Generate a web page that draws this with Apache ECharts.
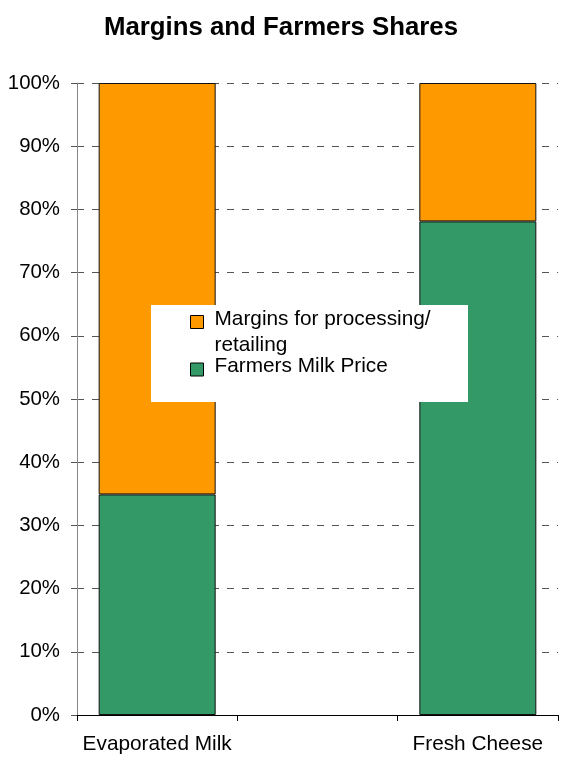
<!DOCTYPE html>
<html>
<head>
<meta charset="utf-8">
<script src="https://cdn.jsdelivr.net/npm/echarts@6/dist/echarts.min.js"></script>
<style>
  html, body { margin: 0; padding: 0; background: #fff; }
  #chart { width: 562px; height: 760px; }
</style>
</head>
<body>
<div id="chart"></div>
<script>
const chartTitle = 'Margins and Farmers Shares';
const categories = ['Evaporated Milk', '', 'Fresh Cheese'];
const farmersShare = [34.9, null, 78.1];
const marginsShare = [65.1, null, 21.9];
const seriesNames = ['Farmers Milk Price', 'Margins for processing/ retailing'];
const yTicks = [0, 10, 20, 30, 40, 50, 60, 70, 80, 90, 100];

const FONT = '"Liberation Sans", Arial, sans-serif';
const chart = echarts.init(document.getElementById('chart'), null, { renderer: 'canvas' });

const option = {
  animation: false,
  backgroundColor: '#ffffff',
  textStyle: { fontFamily: FONT },
  title: {
    text: chartTitle,
    left: 'center',
    top: 10,
    textStyle: { fontFamily: FONT, fontSize: 25.8, fontWeight: 'bold', color: '#000' }
  },
  grid: { left: 77, right: 4, top: 83, bottom: 45, outerBoundsMode: 'none', containLabel: false },
  graphic: [{
    type: 'rect',
    left: 151, top: 305, z: 10,
    shape: { width: 317, height: 97 },
    style: { fill: '#ffffff' }
  }],
  legend: {
    orient: 'vertical',
    left: 190,
    top: 294,
    padding: 0,
    itemGap: 0,
    z: 20,
    itemWidth: 13,
    itemHeight: 13,
    icon: 'rect',
    itemStyle: { borderColor: '#000', borderWidth: 1 },
    textStyle: {
      fontFamily: FONT, fontSize: 20.8, color: '#000',
      rich: {
        a: { fontFamily: FONT, fontSize: 20.8, color: '#000', lineHeight: 26, padding: [0, 0, 0, 6] },
        f: { fontFamily: FONT, fontSize: 20.8, color: '#000', lineHeight: 20, padding: [0, 0, 0, 6] },
        s: { fontSize: 4, lineHeight: 21 },
        t: { fontSize: 4, lineHeight: 6 }
      }
    },
    data: [seriesNames[1], seriesNames[0]],
    formatter: function (name) {
      if (name === seriesNames[1]) {
        return '{s| }\n{a|Margins for processing/}\n{a|retailing}';
      }
      return '{f|' + name + '}\n{t| }';
    }
  },
  xAxis: {
    type: 'category',
    data: categories,
    boundaryGap: true,
    axisLine: { show: true, lineStyle: { color: '#000', width: 1 } },
    axisTick: { show: true, length: 6, interval: 0, lineStyle: { color: '#000' } },
    axisLabel: { margin: 19, interval: 0, fontFamily: FONT, fontSize: 20.8, color: '#000' },
    splitLine: { show: false }
  },
  yAxis: {
    type: 'value',
    min: 0, max: 100, interval: 10,
    axisLine: { show: true, lineStyle: { color: '#888', width: 1 } },
    axisTick: { show: true, length: 6, lineStyle: { color: '#555' } },
    axisLabel: {
      margin: 17, fontFamily: FONT, fontSize: 20.4, color: '#000',
      formatter: function (v) { return v + '%'; }
    },
    splitLine: { show: true, lineStyle: { color: '#555', width: 1, type: [7, 8] } }
  },
  series: [
    {
      name: seriesNames[0],
      type: 'bar',
      stack: 'total',
      data: farmersShare,
      barWidth: 117,
      itemStyle: { color: '#339966', borderColor: '#111', borderWidth: 1 }
    },
    {
      name: seriesNames[1],
      type: 'bar',
      stack: 'total',
      data: marginsShare,
      barWidth: 117,
      itemStyle: { color: '#FF9900', borderColor: '#111', borderWidth: 1 }
    }
  ]
};
chart.setOption(option);
</script>
</body>
</html>
